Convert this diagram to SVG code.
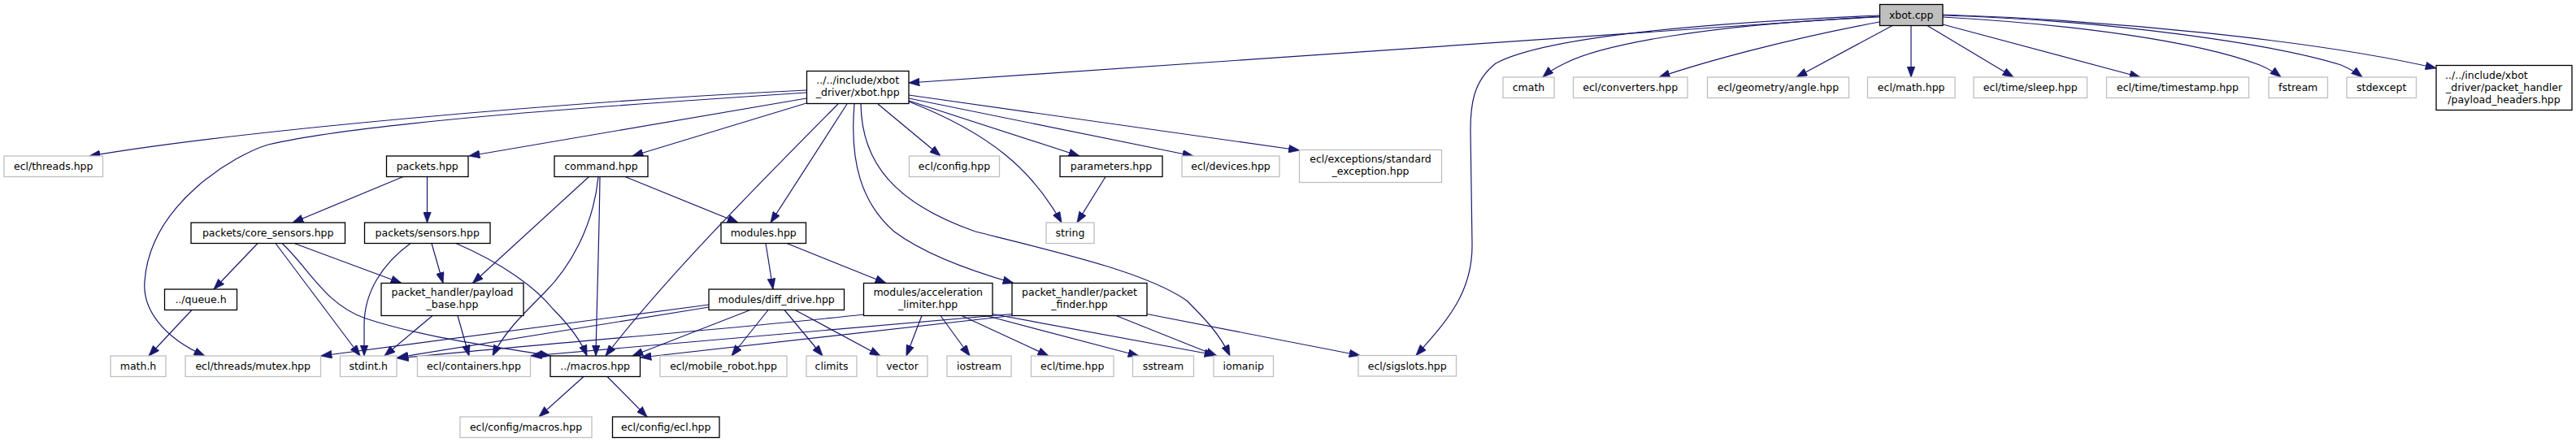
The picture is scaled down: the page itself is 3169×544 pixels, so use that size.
<svg xmlns="http://www.w3.org/2000/svg" width="3169" height="544" viewBox="0 0 3169 544">
<style>
.nd rect{fill:#fff;stroke:#000;stroke-width:1.3}
.gr rect{fill:#fff;stroke:#bfbfbf;stroke-width:1.3}
.rt rect{fill:#bfbfbf;stroke:#000;stroke-width:1.3}
text{font-family:"DejaVu Sans","Liberation Sans",sans-serif;font-size:12.5px;text-anchor:middle;fill:#000}
#edges path{fill:none;stroke:#191970;stroke-width:1.2;marker-end:url(#arr)}
</style>
<defs>
<marker id="arr" markerUnits="userSpaceOnUse" markerWidth="14" markerHeight="10" viewBox="0 0 13 9.4" refX="12.5" refY="4.7" orient="auto">
<path d="M0,0 L13,4.7 L0,9.4 z" fill="#191970" stroke="#191970" stroke-width="0.5"/>
</marker>
</defs>
<rect x="0" y="0" width="3169" height="544" fill="#fff"/>
<g id="edges">
<path d="M2312,20 L1118,102"/>
<path d="M2312,21 C2100,30 1970,55 1925,78 Q1908,86 1898,95"/>
<path d="M2312,27 C2200,48 2100,75 2041,95"/>
<path d="M2329,31 L2210,95"/>
<path d="M2351,31.5 L2351,95"/>
<path d="M2371,31.5 L2477,95"/>
<path d="M2390,30 L2633,95"/>
<path d="M2390,21 C2550,30 2700,50 2780,80 Q2796,87 2806,95"/>
<path d="M2390,19 C2600,25 2800,55 2880,80 Q2896,87 2906,95"/>
<path d="M2390,18 C2600,25 2850,50 2997,84"/>
<path d="M2312,19 C2100,28 1900,45 1840,78 C1812,100 1809,130 1809,160 L1811,300 C1812,360 1780,395 1742,437.5"/>
<path d="M992,111 C700,125 300,160 110,192"/>
<path d="M992,114 C750,130 450,150 330,178 C290,190 185,250 178,346 C175,380 200,415 252,438"/>
<path d="M992,121 L577,192"/>
<path d="M992,127 L778,192"/>
<path d="M1042,128 L948,274"/>
<path d="M1031,128 C940,220 820,340 745,438"/>
<path d="M1051,128 C1045,200 1060,250 1100,285 C1140,315 1200,335 1247,348.5"/>
<path d="M1059,128 C1060,200 1100,250 1200,285 C1300,310 1410,335 1460,370 C1480,390 1500,410 1513,438"/>
<path d="M1080,128 L1157,192"/>
<path d="M1118,125 C1220,165 1270,210 1306,274"/>
<path d="M1118,124 L1328,192"/>
<path d="M1118,121 L1468,192"/>
<path d="M1118,117 L1598.5,185"/>
<path d="M1360,217.5 L1325,274"/>
<path d="M496,217.5 L360,274"/>
<path d="M525.5,217.5 L525.5,274"/>
<path d="M317,299.5 L263,356"/>
<path d="M339,299.5 L443,438"/>
<path d="M347,299.5 C380,330 400,375 450,392 C520,415 600,425 677,438"/>
<path d="M362,299.5 L494,348.5"/>
<path d="M505,299.5 C470,325 448,360 448,400 L448,438"/>
<path d="M531,299.5 L545,348.5"/>
<path d="M561,299.5 C620,325 660,355 680,380 C700,400 715,420 722,438"/>
<path d="M724.5,217.5 L581.5,348.5"/>
<path d="M736,217.5 C730,280 700,330 670,360 C640,390 620,410 606,438"/>
<path d="M738,217.5 C737,300 734,380 733,438"/>
<path d="M769,217.5 L908,274"/>
<path d="M942,299.5 L951,356"/>
<path d="M968,299.5 L1090,348.5"/>
<path d="M236,381.5 L183,438"/>
<path d="M532,388.5 L473,438"/>
<path d="M563,388.5 L577,438"/>
<path d="M718,463.5 L663,513"/>
<path d="M747,463.5 L796,513"/>
<path d="M872,375 L395,438"/>
<path d="M872,378 L489,440"/>
<path d="M923,381.5 L778,438"/>
<path d="M945,381.5 L900,438"/>
<path d="M965,381.5 L1012,438"/>
<path d="M978,381.5 L1083,438"/>
<path d="M1063,387 C900,405 700,420 489,441"/>
<path d="M1134,388.5 L1115,438"/>
<path d="M1157,388.5 L1193,438"/>
<path d="M1183,388.5 L1290,438"/>
<path d="M1213,388.5 L1401,438"/>
<path d="M1221,386.5 L1495,437"/>
<path d="M1245,386.5 L653,438"/>
<path d="M1245,388.5 L788,440"/>
<path d="M1373,388.5 L1497,438"/>
<path d="M1411,386.5 L1673,437.5"/>
</g>
<g id="n_xbotcpp" class="rt"><rect x="2312.5" y="5.5" width="77.5" height="26"/><text x="2351.2" y="22.5">xbot.cpp</text></g>
<g id="n_xbothpp" class="nd"><rect x="992.5" y="87.5" width="125.5" height="40"/><text x="1055.2" y="103">../../include/xbot</text><text x="1055.2" y="118">_driver/xbot.hpp</text></g>
<g id="n_cmath" class="gr"><rect x="1849" y="95" width="63" height="25.5"/><text x="1880.5" y="112">cmath</text></g>
<g id="n_converters" class="gr"><rect x="1935.5" y="95" width="140.5" height="25.5"/><text x="2005.7" y="112">ecl/converters.hpp</text></g>
<g id="n_angle" class="gr"><rect x="2100.5" y="95" width="174" height="25.5"/><text x="2187.5" y="112">ecl/geometry/angle.hpp</text></g>
<g id="n_eclmath" class="gr"><rect x="2297.5" y="95" width="107.5" height="25.5"/><text x="2351.2" y="112">ecl/math.hpp</text></g>
<g id="n_sleep" class="gr"><rect x="2428" y="95" width="139.5" height="25.5"/><text x="2497.7" y="112">ecl/time/sleep.hpp</text></g>
<g id="n_timestamp" class="gr"><rect x="2591.5" y="95" width="175" height="25.5"/><text x="2679" y="112">ecl/time/timestamp.hpp</text></g>
<g id="n_fstream" class="gr"><rect x="2791" y="95" width="72.5" height="25.5"/><text x="2827.2" y="112">fstream</text></g>
<g id="n_stdexcept" class="gr"><rect x="2887" y="95" width="85.5" height="25.5"/><text x="2929.7" y="112">stdexcept</text></g>
<g id="n_payloadheaders" class="nd"><rect x="2997" y="80.5" width="167" height="55"/><text x="3008" y="97" style="text-anchor:start">../../include/xbot</text><text x="3080.5" y="111.5">_driver/packet_handler</text><text x="3080.5" y="126.5">/payload_headers.hpp</text></g>
<g id="n_threads" class="gr"><rect x="5" y="192" width="121.5" height="25.5"/><text x="65.7" y="209">ecl/threads.hpp</text></g>
<g id="n_packets" class="nd"><rect x="475.5" y="192" width="100.5" height="25.5"/><text x="525.7" y="209">packets.hpp</text></g>
<g id="n_command" class="nd"><rect x="682" y="192" width="115" height="25.5"/><text x="739.5" y="209">command.hpp</text></g>
<g id="n_config" class="gr"><rect x="1118.5" y="192" width="111" height="25.5"/><text x="1174" y="209">ecl/config.hpp</text></g>
<g id="n_parameters" class="nd"><rect x="1304" y="192" width="126" height="25.5"/><text x="1367" y="209">parameters.hpp</text></g>
<g id="n_devices" class="gr"><rect x="1454" y="192" width="120" height="25.5"/><text x="1514" y="209">ecl/devices.hpp</text></g>
<g id="n_exceptions" class="gr"><rect x="1598.5" y="184.5" width="175" height="40"/><text x="1686" y="200">ecl/exceptions/standard</text><text x="1686" y="215">_exception.hpp</text></g>
<g id="n_coresensors" class="nd"><rect x="235" y="274" width="189.5" height="25.5"/><text x="329.7" y="291">packets/core_sensors.hpp</text></g>
<g id="n_sensors" class="nd"><rect x="448.5" y="274" width="154.5" height="25.5"/><text x="525.7" y="291">packets/sensors.hpp</text></g>
<g id="n_modules" class="nd"><rect x="887" y="274" width="104.5" height="25.5"/><text x="939.2" y="291">modules.hpp</text></g>
<g id="n_string" class="gr"><rect x="1287" y="274" width="59" height="25.5"/><text x="1316.5" y="291">string</text></g>
<g id="n_queue" class="nd"><rect x="202.5" y="356" width="89" height="25.5"/><text x="247" y="373">../queue.h</text></g>
<g id="n_payloadbase" class="nd"><rect x="469" y="348.5" width="175" height="40"/><text x="556.5" y="364">packet_handler/payload</text><text x="556.5" y="379">_base.hpp</text></g>
<g id="n_diffdrive" class="nd"><rect x="872" y="356" width="166.5" height="25.5"/><text x="955.2" y="373">modules/diff_drive.hpp</text></g>
<g id="n_accel" class="nd"><rect x="1062.5" y="348.5" width="158.5" height="40"/><text x="1141.7" y="364">modules/acceleration</text><text x="1141.7" y="379">_limiter.hpp</text></g>
<g id="n_packetfinder" class="nd"><rect x="1245" y="348.5" width="166" height="40"/><text x="1328" y="364">packet_handler/packet</text><text x="1328" y="379">_finder.hpp</text></g>
<g id="n_mathh" class="gr"><rect x="136" y="438" width="68" height="25.5"/><text x="170" y="455">math.h</text></g>
<g id="n_mutex" class="gr"><rect x="228" y="438" width="166.5" height="25.5"/><text x="311.2" y="455">ecl/threads/mutex.hpp</text></g>
<g id="n_stdint" class="gr"><rect x="418.5" y="438" width="69.5" height="25.5"/><text x="453.2" y="455">stdint.h</text></g>
<g id="n_containers" class="gr"><rect x="513.5" y="438" width="139" height="25.5"/><text x="583" y="455">ecl/containers.hpp</text></g>
<g id="n_macros" class="nd"><rect x="677" y="438" width="110.5" height="25.5"/><text x="732.2" y="455">../macros.hpp</text></g>
<g id="n_mobilerobot" class="gr"><rect x="812" y="438" width="156" height="25.5"/><text x="890" y="455">ecl/mobile_robot.hpp</text></g>
<g id="n_climits" class="gr"><rect x="992" y="438" width="62" height="25.5"/><text x="1023" y="455">climits</text></g>
<g id="n_vector" class="gr"><rect x="1079" y="438" width="62" height="25.5"/><text x="1110" y="455">vector</text></g>
<g id="n_iostream" class="gr"><rect x="1165" y="438" width="79" height="25.5"/><text x="1204.5" y="455">iostream</text></g>
<g id="n_ecltime" class="gr"><rect x="1268.5" y="438" width="101.5" height="25.5"/><text x="1319.2" y="455">ecl/time.hpp</text></g>
<g id="n_sstream" class="gr"><rect x="1393.5" y="438" width="75" height="25.5"/><text x="1431" y="455">sstream</text></g>
<g id="n_iomanip" class="gr"><rect x="1493" y="438" width="73.5" height="25.5"/><text x="1529.7" y="455">iomanip</text></g>
<g id="n_sigslots" class="gr"><rect x="1671" y="437.5" width="120.5" height="25.5"/><text x="1731.2" y="454.5">ecl/sigslots.hpp</text></g>
<g id="n_configmacros" class="gr"><rect x="566" y="513" width="162" height="25.5"/><text x="647" y="530">ecl/config/macros.hpp</text></g>
<g id="n_configecl" class="nd"><rect x="753.5" y="513" width="131.5" height="25.5"/><text x="819.2" y="530">ecl/config/ecl.hpp</text></g>
</svg>
